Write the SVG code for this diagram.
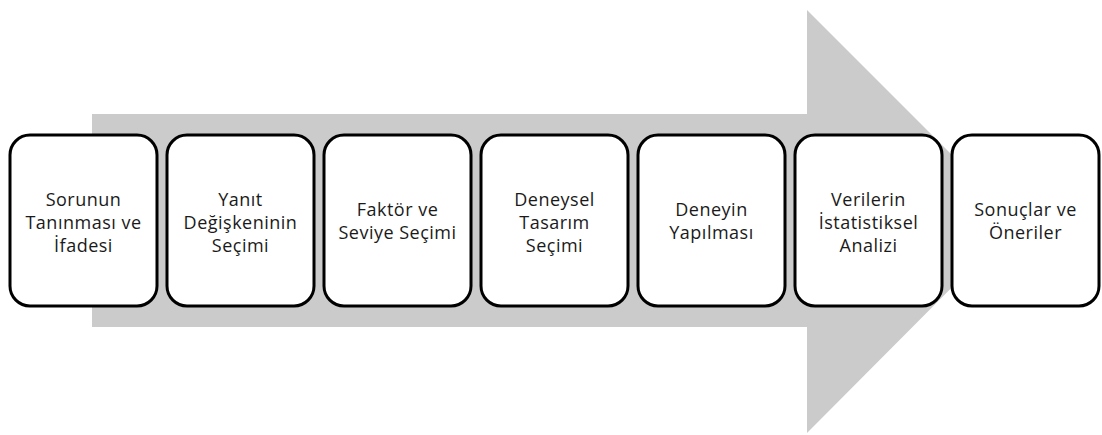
<svg xmlns="http://www.w3.org/2000/svg" width="1102" height="435" viewBox="0 0 1102 435">
<style>
.box{fill:#fff;stroke:#000;stroke-width:3}
.t{font-family:"Open Sans","Noto Sans",sans-serif;font-size:18px;letter-spacing:0.5px;fill:#1a1a1a;text-anchor:middle}
</style>
<rect width="1102" height="435" fill="#fff"/>
<g id="arrow">
<polygon points="92,114 807,114 807,10 1018,221 807,433 807,327 92,327" fill="#cbcbcb"/>
</g>
<g id="n1"><rect class="box" x="10" y="135" width="147" height="171" rx="20"/>
<text class="t" x="83.5" y="206">Sorunun</text><text class="t" x="83.5" y="229">Tanınması ve</text><text class="t" x="83.5" y="252">İfadesi</text></g>
<g id="n2"><rect class="box" x="167" y="135" width="147" height="171" rx="20"/>
<text class="t" x="240.5" y="206">Yanıt</text><text class="t" x="240.5" y="229">Değişkeninin</text><text class="t" x="240.5" y="252">Seçimi</text></g>
<g id="n3"><rect class="box" x="324" y="135" width="147" height="171" rx="20"/>
<text class="t" x="397.5" y="216">Faktör ve</text><text class="t" x="397.5" y="239">Seviye Seçimi</text></g>
<g id="n4"><rect class="box" x="481" y="135" width="147" height="171" rx="20"/>
<text class="t" x="554.5" y="206">Deneysel</text><text class="t" x="554.5" y="229">Tasarım</text><text class="t" x="554.5" y="252">Seçimi</text></g>
<g id="n5"><rect class="box" x="638" y="135" width="147" height="171" rx="20"/>
<text class="t" x="711.5" y="216">Deneyin</text><text class="t" x="711.5" y="239">Yapılması</text></g>
<g id="n6"><rect class="box" x="795" y="135" width="147" height="171" rx="20"/>
<text class="t" x="868.5" y="206">Verilerin</text><text class="t" x="868.5" y="229">İstatistiksel</text><text class="t" x="868.5" y="252">Analizi</text></g>
<g id="n7"><rect class="box" x="952" y="135" width="147" height="171" rx="20"/>
<text class="t" x="1025.5" y="216">Sonuçlar ve</text><text class="t" x="1025.5" y="239">Öneriler</text></g>
<g id="connectors"></g>
</svg>
